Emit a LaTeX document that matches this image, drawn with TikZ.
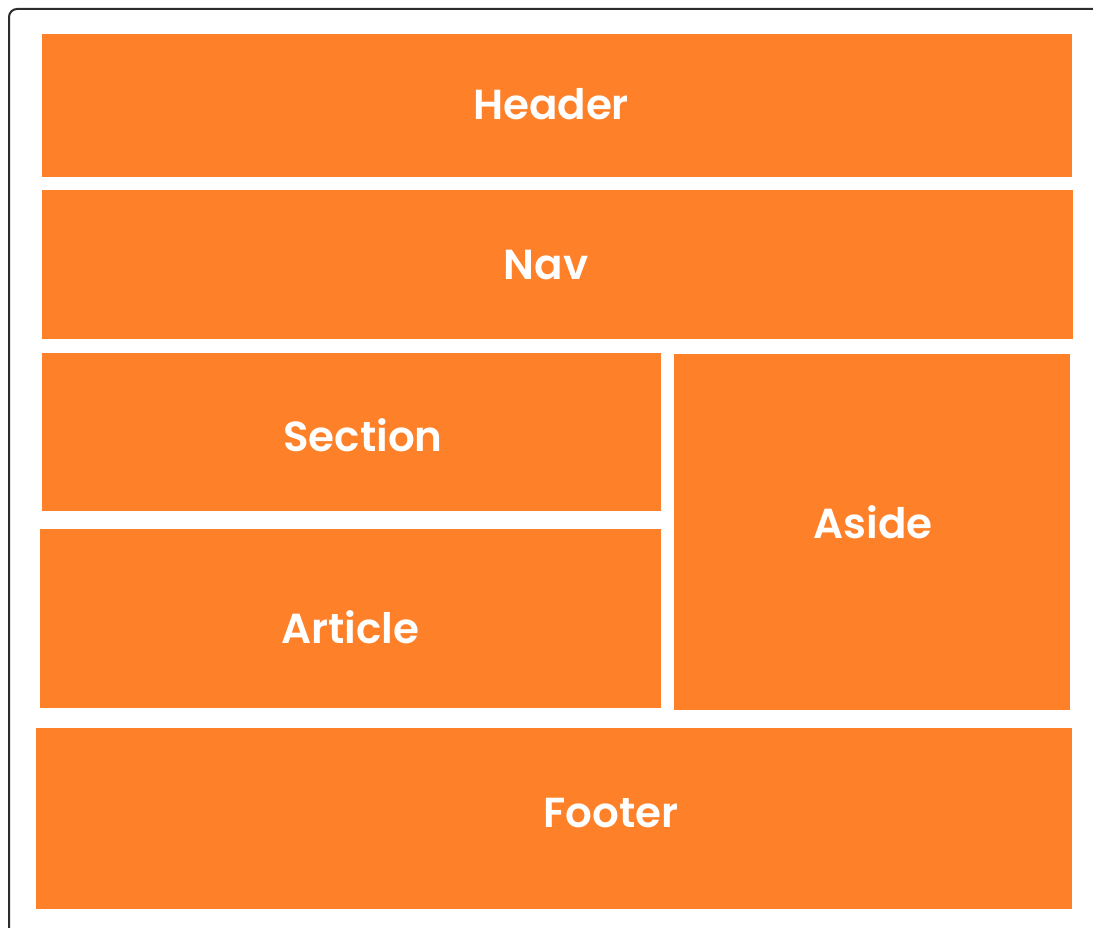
\documentclass[tikz,border=0pt]{standalone}
\usepackage{fontspec}
\setmainfont{Poppins}[BoldFont=* SemiBold]
\usepackage{xcolor}
\usepackage{tikz}
\usetikzlibrary{positioning, calc}
\definecolor{blockcolor}{RGB}{254, 128, 40}
\definecolor{framecolor}{RGB}{45, 45, 45}

\begin{document}
\begin{tikzpicture}[
    x=1pt, y=-1pt,
    block/.style={fill=blockcolor, draw=none, inner sep=0pt, minimum width=#1},
    blocktext/.style={text=white, font=\fontsize{42}{50}\selectfont\bfseries, inner sep=0pt}
]
    \useasboundingbox (0,0) rectangle (1093,928);
    % outer frame, cut off at right and bottom
    \draw[framecolor, line width=2pt, rounded corners=8pt] (9,940) -- (9,9) -- (1110,9);

    % page blocks
    \node[block=1030pt, minimum height=143pt] (header) at (557,105.5) {};
    \node[block=1031pt, minimum height=149pt] (nav) at (557.5,264.5) {};
    \node[block=619pt, minimum height=158pt] (section) at (351.5,432) {};
    \node[block=621pt, minimum height=179pt] (article) at (350.5,618.5) {};
    \node[block=396pt, minimum height=356pt] (aside) at (872,532) {};
    \node[block=1036pt, minimum height=181pt] (footer) at (554,818.5) {};

    % labels
    \node[blocktext] (header-text) at (551,104) {Header};
    \node[blocktext] (nav-text) at (546,265) {Nav};
    \node[blocktext] (section-text) at (363,435) {Section};
    \node[blocktext] (article-text) at (350,627) {Article};
    \node[blocktext] (aside-text) at (873,522) {Aside};
    \node[blocktext] (footer-text) at (611,813) {Footer};
\end{tikzpicture}
\end{document}
